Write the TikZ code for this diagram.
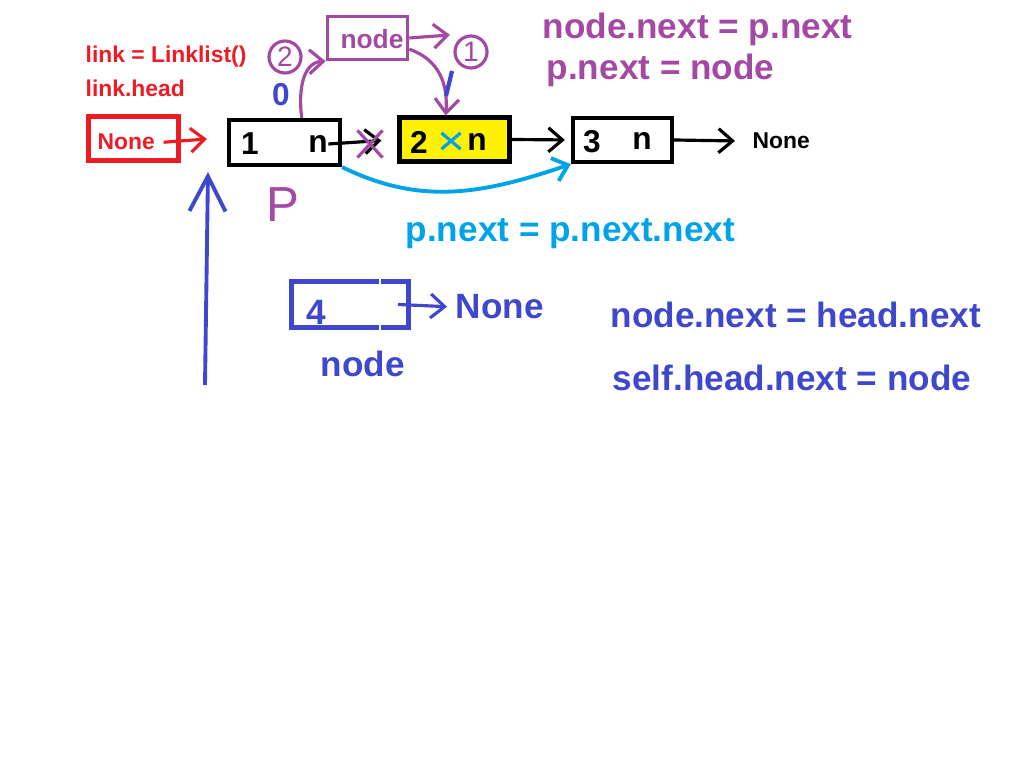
\documentclass[tikz,border=0pt]{standalone}
\usepackage{fontspec}
\setmainfont{Liberation Sans}
\usetikzlibrary{arrows.meta,shapes.misc}
\definecolor{pred}{RGB}{237,28,36}
\definecolor{ppurple}{RGB}{163,73,164}
\definecolor{pindigo}{RGB}{63,72,204}
\definecolor{pturq}{RGB}{0,162,232}
\definecolor{pyellow}{RGB}{255,242,0}
\tikzset{box/.style={draw,line width=1.2pt,inner sep=0pt},
lbl/.style={inner sep=0pt,anchor=base west},
bigtxt/.style={lbl,font=\bfseries\fontsize{10}{12}\selectfont},
smalltxt/.style={lbl,font=\bfseries\fontsize{6.5}{8}\selectfont},
hand/.style={inner sep=0pt,font=\bfseries\fontsize{9}{9}\selectfont},
link/.style={line width=0.9pt,->},
cutmark/.style={cross out,draw,line width=0.9pt,inner sep=0pt},
ringnum/.style={circle,draw,line width=0.9pt,inner sep=0pt,minimum size=0.32cm,font=\fontsize{8}{8}\selectfont}}
\begin{document}
\begin{tikzpicture}[x=0.01cm,y=-0.01cm,>={Straight Barb[length=1.4mm,width=2.4mm]}]
\useasboundingbox (0,0) rectangle (1024,768);
\node[smalltxt,pred] (mk) at (85,63) {link = Linklist()};
\node[smalltxt,pred] (hd) at (85,97) {link.head};
\node[box,draw=pred,line width=1.3pt,minimum width=0.9cm,minimum height=0.44cm] (head) at (133.5,138.5) {};
\node[smalltxt,pred] (hnone) at (97,150) {None};
\node[box,minimum width=1.11cm,minimum height=0.45cm] (b1) at (284.5,142.5) {};
\node[box,fill=pyellow,minimum width=1.10cm,minimum height=0.44cm] (b2) at (454.5,139.5) {};
\node[box,minimum width=0.99cm,minimum height=0.44cm] (b3) at (622.5,140) {};
\node[box,draw=ppurple,line width=1pt,minimum width=0.80cm,minimum height=0.43cm] (nd) at (367.5,38) {};
\node[box,draw=pindigo,line width=1.4pt,minimum width=1.17cm,minimum height=0.46cm] (b4) at (350,304.5) {};
\node[hand] (v1) at (250,144) {1};
\node[hand] (p1) at (318,144) {n};
\node[hand] (v2) at (419,142) {2};
\node[cutmark,draw=pturq,minimum width=0.16cm,minimum height=0.13cm] (x2) at (451,141) {};
\node[hand] (p2) at (477,142) {n};
\node[hand] (v3) at (592,142) {3};
\node[hand] (p3) at (642,141) {n};
\node[hand,ppurple,font=\bfseries\fontsize{7.5}{8}\selectfont] (nt) at (372,39) {node};
\node[ringnum,draw=ppurple,ppurple] (c2) at (285,57) {2};
\node[ringnum,draw=ppurple,ppurple] (c1) at (471,52) {1};
\node[hand,pindigo] (z) at (281,95) {0};
\node[inner sep=0pt,font=\fontsize{14}{14}\selectfont,ppurple] (pp) at (283,205) {P};
\node[smalltxt] (tnone) at (752,149) {None};
\node[bigtxt,ppurple] (s1) at (542,39) {node.next = p.next};
\node[bigtxt,ppurple] (s2) at (546,80) {p.next = node};
\node[bigtxt,pturq] (s3) at (405,242) {p.next = p.next.next};
\node[bigtxt,pindigo] (s4) at (610,328) {node.next = head.next};
\node[bigtxt,pindigo] (s5) at (612,391) {self.head.next = node};
\node[bigtxt,pindigo] (v4) at (306,325) {4};
\node[bigtxt,pindigo] (bnone) at (455,319) {None};
\node[bigtxt,pindigo] (nn) at (320,377) {node};
\coordinate (hto) at (207,139);
\coordinate (c1to) at (450,35);
\coordinate (pbot) at (205,385);
\coordinate (ptop) at (208,172);
\draw[link,pred] ([xshift=0.8mm]hnone.east) -- (hto);
\draw[link,shorten >=1.6mm] (p1.east) -- (b2.west);
\node[cutmark,draw=ppurple,minimum width=0.22cm,minimum height=0.24cm] (xx) at (370,144) {};
\draw[link,shorten >=0.6mm] (b2.east) -- (b3.west);
\draw[link,shorten >=1.7mm] (b3.east) -- (tnone.west);
\draw[link,pturq,line width=1.1pt] (b1.south east) .. controls (420,205) and (480,195) .. (b3.south west);
\draw[link,ppurple] (nd.east) -- (c1to);
\draw[link,ppurple] (nd.-15) .. controls (440,60) and (448,85) .. (b2.110);
\draw[link,ppurple] (b1.55) .. controls (298,90) and (303,62) .. (nd.south west);
\draw[pindigo,line width=1.1pt,-{Straight Barb[length=3.5mm,width=3.6mm]}] (pbot) -- (ptop);
\draw[pindigo,line width=1.2pt] (452,71) -- (446,96);
\draw[link,pindigo,shorten >=0.8mm] ([xshift=-1.3mm]b4.east) -- (bnone.west);
\draw[white,line width=0.8pt] (380,276) -- (380,284) (380,325) -- (380,333);
\end{tikzpicture}
\end{document}
